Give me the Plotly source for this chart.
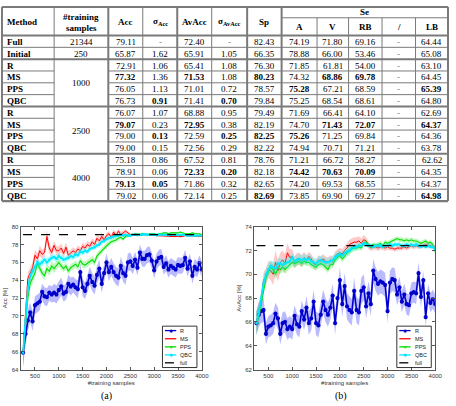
import plotly.graph_objects as go

W, H = 456, 406

# ---------------- table data ----------------
methods = ["Full", "Initial", "R", "MS", "PPS", "QBC", "R", "MS", "PPS", "QBC",
           "R", "MS", "PPS", "QBC"]
train_labels = ["21344", "250", "1000", "2500", "4000"]
train_rows = [0, 1, 3.5, 7.5, 11.5]          # row positions (merged groups centred)
headers_main = ["Acc", "σ<sub>Acc</sub>", "AvAcc", "σ<sub>AvAcc</sub>", "Sp"]
headers_se = ["A", "V", "RB", "/", "LB"]

acc = ["79.11", "65.87", "72.91", "77.32", "76.05", "76.73", "76.07", "79.07", "79.00", "79.00",
       "75.18", "78.91", "79.13", "79.02"]
sd_acc = ["-", "1.62", "1.06", "1.36", "1.13", "0.91", "1.07", "0.23", "0.13", "0.15",
          "0.86", "0.06", "0.05", "0.06"]
avacc = ["72.40", "65.91", "65.41", "71.53", "71.01", "71.41", "68.88", "72.95", "72.59", "72.56",
         "67.52", "72.33", "71.86", "72.14"]
sd_avacc = ["-", "1.05", "1.08", "1.08", "0.72", "0.70", "0.95", "0.38", "0.25", "0.29",
            "0.81", "0.20", "0.32", "0.25"]
sp = ["82.43", "66.35", "76.30", "80.23", "78.57", "79.84", "79.49", "82.19", "82.25", "82.22",
      "78.76", "82.18", "82.65", "82.69"]
se_a = ["74.19", "78.88", "71.85", "74.32", "75.28", "75.25", "71.69", "74.70", "75.26", "74.94",
        "71.21", "74.42", "74.20", "73.85"]
se_v = ["71.80", "66.00", "61.81", "68.86", "67.21", "68.54", "66.41", "71.43", "71.25", "70.71",
        "66.72", "70.63", "69.53", "69.90"]
se_rb = ["69.16", "53.46", "54.00", "69.78", "68.59", "68.61", "64.10", "72.07", "69.84", "71.21",
         "58.27", "70.09", "68.55", "69.27"]
se_slash = ["-", "-", "-", "-", "-", "-", "-", "-", "-", "-", "-", "-", "-", "-"]
se_lb = ["64.44", "65.08", "63.10", "64.45", "65.39", "64.80", "62.69", "64.37", "64.36", "63.78",
         "62.62", "64.35", "64.37", "64.98"]
bold_cells = [(3, 0), (5, 1), (3, 2), (5, 3), (3, 4), (4, 5), (3, 6), (3, 7), (4, 9),
              (7, 0), (8, 1), (7, 2), (8, 3), (8, 4), (8, 5), (7, 6), (7, 7), (7, 9),
              (12, 0), (12, 1), (11, 2), (11, 3), (13, 4), (11, 5), (11, 6), (11, 7), (13, 9)]

# ---------------- curve data ----------------
n_samples = list(range(250, 4001, 50))

acc_R = [65.9, 68.0, 69.5, 70.4, 69.4, 71.2, 71.4, 71.6, 72.7, 72.2,
         72.1, 72.6, 72.4, 72.6, 72.4, 72.9, 73.3, 72.5, 72.7, 73.6,
         73.3, 73.5, 73.2, 73.0, 74.9, 73.2, 72.8, 73.6, 74.5, 73.8,
         73.4, 74.6, 75.3, 73.6, 74.8, 76.0, 74.9, 75.5, 74.9, 74.5,
         74.3, 75.6, 74.8, 74.5, 76.0, 76.1, 75.6, 76.3, 75.4, 77.1,
         76.4, 76.4, 76.8, 76.9, 76.2, 75.1, 76.1, 76.5, 76.6, 75.5,
         75.9, 75.2, 75.6, 75.4, 75.2, 75.7, 75.6, 75.7, 76.5, 75.3,
         76.1, 74.5, 75.5, 75.2, 75.9, 75.2]
acc_MS = [65.9, 70.0, 74.2, 74.8, 75.4, 76.8, 76.4, 77.3, 76.9, 77.1,
          78.9, 77.6, 77.1, 77.9, 77.3, 77.3, 77.6, 77.0, 77.7, 76.8,
          77.0, 77.3, 77.1, 77.5, 77.3, 77.8, 77.6, 78.0, 77.8, 78.3,
          78.0, 78.7, 78.4, 78.9, 78.5, 79.0, 79.2, 78.8, 79.4, 79.0,
          79.5, 79.1, 79.3, 79.5, 79.3, 79.1, 79.1, 79.2, 79.1, 79.1,
          79.1, 79.1, 79.1, 79.1, 79.1, 79.1, 79.0, 79.0, 79.0, 79.0,
          78.95, 78.9, 78.9, 78.9, 78.9, 78.9, 78.85, 78.9, 79.0, 79.0,
          79.0, 78.95, 78.95, 78.9, 78.9, 78.9]
acc_PPS = [65.9, 68.8, 72.0, 73.7, 74.3, 74.8, 75.9, 75.3, 74.8, 74.5,
           75.3, 75.0, 75.6, 75.3, 75.7, 76.0, 75.6, 75.3, 75.6, 75.0,
           75.4, 75.6, 75.8, 75.5, 76.2, 75.8, 75.7, 75.9, 76.1, 76.3,
           76.0, 76.7, 77.0, 77.3, 77.6, 77.9, 78.1, 78.3, 78.4, 78.5,
           78.7, 78.8, 78.6, 78.9, 79.0, 79.0, 79.1, 79.1, 79.2, 79.1,
           79.2, 79.2, 79.1, 79.2, 79.2, 79.2, 79.1, 79.2, 79.2, 79.3,
           79.3, 79.2, 79.3, 79.3, 79.3, 79.3, 79.4, 79.3, 79.2, 79.2,
           79.2, 79.3, 79.2, 79.2, 79.2, 79.1]
acc_QBC = [65.9, 69.5, 73.0, 74.5, 75.0, 75.5, 76.0, 75.8, 76.0, 76.3,
           76.0, 76.3, 76.5, 76.6, 76.4, 76.7, 76.5, 76.3, 76.4, 76.5,
           76.7, 76.6, 76.9, 76.8, 77.2, 77.1, 77.3, 77.2, 77.5, 77.6,
           77.7, 77.9, 78.0, 78.3, 78.4, 78.6, 78.7, 78.8, 78.9, 79.0,
           79.0, 79.1, 79.0, 79.1, 79.0, 79.0, 79.1, 79.1, 79.05, 79.1,
           79.1, 79.15, 79.1, 79.1, 79.1, 79.1, 79.05, 79.1, 79.1, 79.1,
           79.1, 79.05, 79.1, 79.1, 79.1, 79.05, 79.1, 79.1, 79.05, 79.0,
           79.0, 79.05, 79.0, 79.0, 79.0, 79.0]

sd_acc_R = [1.6, 1.4, 1.2, 1.1, 1.1, 1.0, 1.0, 1.0, 0.9, 1.0,
            1.0, 0.9, 0.9, 1.0, 1.0, 1.0, 1.0, 0.9, 0.9, 1.0,
            1.0, 0.9, 0.9, 1.0, 1.0, 1.0, 0.9, 1.0, 1.0, 1.0,
            1.0, 1.0, 1.0, 1.0, 1.0, 1.0, 1.0, 1.0, 1.0, 1.0,
            1.0, 1.0, 1.0, 1.0, 1.0, 1.0, 0.9, 0.9, 0.9, 0.9,
            0.9, 0.9, 0.9, 0.9, 0.9, 0.9, 0.9, 0.9, 0.9, 0.9,
            0.9, 0.9, 0.9, 0.9, 0.9, 0.9, 0.9, 0.9, 0.9, 0.9,
            0.9, 0.9, 0.9, 0.9, 0.9, 0.9]
sd_acc_MS = [1.6, 1.0, 0.7, 0.6, 0.6, 0.6, 0.6, 0.6, 0.5, 0.5,
             0.7, 0.6, 0.5, 0.5, 0.5, 0.5, 0.5, 0.5, 0.5, 0.5,
             0.4, 0.4, 0.4, 0.4, 0.4, 0.4, 0.4, 0.4, 0.4, 0.4,
             0.4, 0.4, 0.4, 0.4, 0.4, 0.3, 0.3, 0.3, 0.3, 0.3,
             0.3, 0.3, 0.2, 0.2, 0.2, 0.15, 0.15, 0.15, 0.15, 0.15,
             0.15, 0.15, 0.15, 0.12, 0.12, 0.12, 0.12, 0.12, 0.12, 0.12,
             0.12, 0.1, 0.1, 0.1, 0.1, 0.1, 0.1, 0.1, 0.1, 0.1,
             0.1, 0.1, 0.1, 0.1, 0.1, 0.1]
sd_acc_PPS = [1.6, 1.0, 0.8, 0.7, 0.6, 0.5, 0.5, 0.5, 0.5, 0.5,
              0.5, 0.5, 0.5, 0.5, 0.5, 0.5, 0.4, 0.4, 0.4, 0.4,
              0.4, 0.4, 0.4, 0.4, 0.4, 0.4, 0.4, 0.4, 0.4, 0.4,
              0.4, 0.35, 0.35, 0.35, 0.3, 0.3, 0.3, 0.3, 0.3, 0.25,
              0.25, 0.25, 0.2, 0.2, 0.2, 0.15, 0.15, 0.15, 0.15, 0.15,
              0.15, 0.12, 0.12, 0.12, 0.12, 0.12, 0.12, 0.12, 0.12, 0.12,
              0.12, 0.12, 0.12, 0.12, 0.12, 0.1, 0.1, 0.1, 0.1, 0.1,
              0.1, 0.1, 0.1, 0.1, 0.1, 0.1]
sd_acc_QBC = [1.6, 1.0, 0.7, 0.6, 0.5, 0.5, 0.5, 0.45, 0.45, 0.45,
              0.45, 0.4, 0.4, 0.4, 0.4, 0.4, 0.4, 0.4, 0.35, 0.35,
              0.35, 0.35, 0.35, 0.35, 0.35, 0.35, 0.35, 0.3, 0.3, 0.3,
              0.3, 0.3, 0.3, 0.25, 0.25, 0.25, 0.2, 0.2, 0.2, 0.2,
              0.15, 0.15, 0.15, 0.15, 0.15, 0.12, 0.12, 0.12, 0.1, 0.1,
              0.1, 0.1, 0.1, 0.1, 0.1, 0.1, 0.1, 0.1, 0.1, 0.1,
              0.1, 0.1, 0.1, 0.1, 0.1, 0.1, 0.1, 0.1, 0.1, 0.1,
              0.1, 0.1, 0.1, 0.1, 0.1, 0.1]

avacc_R = [65.9, 66.6, 66.9, 67.0, 65.0, 65.6, 65.7, 65.9, 66.7, 66.3,
           65.0, 65.9, 66.0, 65.4, 65.6, 65.4, 66.5, 65.8, 65.6, 66.9,
           66.2, 67.2, 65.9, 66.3, 67.7, 65.9, 65.7, 66.6, 67.7, 67.0,
           66.6, 67.2, 68.2, 65.9, 68.0, 69.5, 67.5, 69.0, 67.3, 67.0,
           66.8, 68.6, 67.0, 66.8, 68.6, 68.9, 67.3, 68.4, 67.5, 70.3,
           69.6, 69.2, 69.4, 69.3, 69.1, 66.9, 69.3, 69.6, 69.5, 68.3,
           68.9, 67.7, 68.3, 67.5, 67.4, 68.4, 68.5, 68.4, 70.1, 68.1,
           69.5, 66.4, 68.4, 67.6, 67.9, 67.5]
avacc_MS = [65.9, 66.8, 67.8, 69.5, 69.8, 70.4, 70.3, 70.0, 71.0, 70.3,
            71.0, 71.2, 70.9, 71.8, 71.4, 71.5, 71.0, 71.3, 71.3, 71.1,
            71.4, 71.2, 71.5, 71.3, 70.9, 70.8, 71.2, 71.1, 71.3, 71.1,
            71.0, 71.2, 71.1, 71.5, 71.7, 71.8, 71.7, 72.0, 72.2, 72.5,
            72.6, 72.7, 72.7, 72.8, 72.6, 72.9, 72.8, 72.4, 72.2, 72.3,
            72.3, 72.2, 72.3, 72.3, 72.2, 72.3, 72.2, 72.2, 72.1, 72.2,
            72.2, 72.2, 72.3, 72.2, 72.3, 72.4, 72.3, 72.4, 72.3, 72.4,
            72.4, 72.5, 72.4, 72.4, 72.3, 72.3]
avacc_PPS = [65.9, 66.5, 67.5, 68.8, 69.7, 70.2, 70.6, 70.4, 70.0, 70.5,
             70.4, 70.6, 70.4, 70.6, 70.8, 71.0, 70.9, 71.0, 71.1, 70.9,
             71.1, 71.0, 71.0, 70.8, 70.7, 70.6, 70.8, 70.9, 70.8, 70.6,
             70.4, 70.8, 70.8, 71.2, 71.4, 71.6, 71.3, 71.5, 71.8, 71.9,
             72.1, 72.2, 72.2, 72.3, 72.2, 72.6, 72.7, 72.5, 72.3, 72.5,
             72.4, 72.5, 72.6, 72.4, 72.7, 72.6, 72.7, 72.8, 72.9, 73.0,
             72.9, 72.9, 72.8, 72.9, 72.8, 72.9, 72.8, 72.8, 72.7, 72.6,
             72.7, 72.8, 72.6, 72.7, 72.5, 71.9]
avacc_QBC = [65.9, 66.8, 68.0, 69.3, 70.0, 70.4, 70.7, 70.6, 70.5, 70.9,
             70.9, 70.8, 70.9, 71.0, 71.1, 71.4, 71.1, 71.2, 71.3, 71.2,
             71.3, 71.2, 71.3, 71.1, 71.0, 70.9, 71.1, 71.2, 71.1, 71.0,
             71.0, 71.1, 71.2, 71.4, 71.6, 71.7, 71.6, 71.8, 71.9, 72.0,
             72.2, 72.3, 72.3, 72.4, 72.4, 72.6, 72.5, 72.4, 72.4, 72.3,
             72.4, 72.4, 72.4, 72.3, 72.4, 72.4, 72.5, 72.4, 72.5, 72.5,
             72.5, 72.4, 72.4, 72.5, 72.4, 72.5, 72.4, 72.5, 72.4, 72.3,
             72.4, 72.3, 72.4, 72.3, 72.3, 72.1]

sd_avacc_R = [1.0, 1.0, 1.0, 1.0, 0.9, 0.9, 0.9, 0.9, 0.9, 0.9,
              0.9, 0.9, 0.9, 0.9, 0.9, 0.9, 0.9, 0.9, 0.9, 0.9,
              0.9, 1.0, 1.0, 1.0, 1.0, 1.0, 1.0, 1.0, 1.0, 1.0,
              1.0, 1.0, 1.0, 1.0, 1.1, 1.1, 1.1, 1.1, 1.1, 1.1,
              1.1, 1.1, 1.1, 1.1, 1.1, 1.1, 1.0, 1.0, 1.0, 1.0,
              1.0, 1.0, 1.0, 1.0, 1.0, 1.0, 1.0, 1.0, 1.0, 0.9,
              0.9, 0.9, 0.9, 0.9, 0.9, 0.9, 0.9, 0.9, 0.9, 0.9,
              0.8, 0.8, 0.8, 0.8, 0.8, 0.8]
sd_avacc_MS = [1.0, 0.8, 0.7, 0.7, 0.7, 0.7, 0.8, 0.9, 1.0, 0.9,
               0.8, 0.8, 0.8, 0.8, 0.7, 0.6, 0.5, 0.5, 0.5, 0.5,
               0.5, 0.4, 0.4, 0.4, 0.4, 0.4, 0.4, 0.4, 0.4, 0.4,
               0.4, 0.4, 0.4, 0.4, 0.4, 0.4, 0.4, 0.4, 0.4, 0.4,
               0.4, 0.4, 0.4, 0.4, 0.4, 0.4, 0.3, 0.3, 0.25, 0.25,
               0.25, 0.25, 0.25, 0.25, 0.25, 0.25, 0.2, 0.2, 0.2, 0.2,
               0.2, 0.2, 0.2, 0.2, 0.2, 0.2, 0.2, 0.2, 0.2, 0.2,
               0.2, 0.2, 0.2, 0.2, 0.2, 0.2]
sd_avacc_PPS = [1.0, 0.7, 0.6, 0.5, 0.5, 0.4, 0.4, 0.4, 0.4, 0.4,
                0.4, 0.4, 0.35, 0.35, 0.35, 0.35, 0.35, 0.35, 0.3, 0.3,
                0.3, 0.3, 0.3, 0.3, 0.3, 0.3, 0.3, 0.3, 0.3, 0.3,
                0.3, 0.3, 0.3, 0.3, 0.3, 0.3, 0.3, 0.3, 0.3, 0.3,
                0.25, 0.25, 0.25, 0.25, 0.25, 0.25, 0.25, 0.2, 0.2, 0.2,
                0.2, 0.2, 0.2, 0.2, 0.2, 0.2, 0.2, 0.2, 0.2, 0.2,
                0.2, 0.2, 0.2, 0.2, 0.2, 0.2, 0.2, 0.2, 0.2, 0.2,
                0.2, 0.2, 0.2, 0.2, 0.2, 0.3]
sd_avacc_QBC = [1.0, 0.7, 0.6, 0.5, 0.5, 0.5, 0.5, 0.5, 0.5, 0.45,
                0.45, 0.45, 0.45, 0.45, 0.4, 0.4, 0.4, 0.4, 0.4, 0.4,
                0.4, 0.4, 0.4, 0.4, 0.4, 0.4, 0.4, 0.4, 0.35, 0.35,
                0.35, 0.35, 0.35, 0.35, 0.35, 0.3, 0.3, 0.3, 0.3, 0.3,
                0.3, 0.3, 0.25, 0.25, 0.25, 0.25, 0.2, 0.2, 0.2, 0.2,
                0.2, 0.2, 0.2, 0.2, 0.2, 0.2, 0.2, 0.2, 0.2, 0.2,
                0.2, 0.2, 0.2, 0.2, 0.2, 0.2, 0.2, 0.2, 0.2, 0.2,
                0.2, 0.2, 0.2, 0.2, 0.2, 0.25]

full_acc = float(acc[0])
full_avacc = float(avacc[0])

series_names = ["R", "MS", "PPS", "QBC", "full"]

# ---------------- styles ----------------
line_col = {"R": "#0000cc", "MS": "#ff0000", "PPS": "#00dd00", "QBC": "#00e8ff"}
band_col = {"R": "rgba(90,90,255,0.42)", "MS": "rgba(255,40,40,0.25)",
            "PPS": "rgba(0,230,0,0.25)", "QBC": "rgba(0,255,255,0.30)"}
marker_sym = {"R": "asterisk-open", "MS": None, "PPS": None, "QBC": "asterisk-open"}
marker_size = {"R": 3.5, "MS": 0, "PPS": 0, "QBC": 2}
line_w = {"R": 1.6, "MS": 1.0, "PPS": 1.1, "QBC": 1.7}

fig = go.Figure()


def add_panel(xa, ya, data, sds, full_val):
    for name in ["R", "MS", "PPS", "QBC"]:
        m = data[name]
        s = sds[name]
        up = [a + b for a, b in zip(m, s)]
        lo = [a - b for a, b in zip(m, s)]
        fig.add_trace(go.Scatter(x=n_samples + n_samples[::-1], y=up + lo[::-1],
                                 fill="toself", fillcolor=band_col[name], line=dict(width=0),
                                 mode="lines", hoverinfo="skip", xaxis=xa, yaxis=ya,
                                 showlegend=False))
        mk = dict(symbol=marker_sym[name], size=marker_size[name],
                  line=dict(color=line_col[name], width=1.2)) if marker_sym[name] else None
        fig.add_trace(go.Scatter(x=n_samples, y=m, mode="lines+markers" if mk else "lines",
                                 line=dict(color=line_col[name], width=line_w[name]),
                                 marker=mk, name=name, xaxis=xa, yaxis=ya, showlegend=False))
    fig.add_trace(go.Scatter(x=[n_samples[0], n_samples[-1]], y=[full_val, full_val], mode="lines",
                             line=dict(color="black", width=1.2, dash="dash"), name="full",
                             xaxis=xa, yaxis=ya, showlegend=False))


add_panel("x", "y",
          {"R": acc_R, "MS": acc_MS, "PPS": acc_PPS, "QBC": acc_QBC},
          {"R": sd_acc_R, "MS": sd_acc_MS, "PPS": sd_acc_PPS, "QBC": sd_acc_QBC}, full_acc)
add_panel("x2", "y2",
          {"R": avacc_R, "MS": avacc_MS, "PPS": avacc_PPS, "QBC": avacc_QBC},
          {"R": sd_avacc_R, "MS": sd_avacc_MS, "PPS": sd_avacc_PPS, "QBC": sd_avacc_QBC}, full_avacc)


def px(x):
    return x / W


def py(y):
    return 1 - y / H


ax_font = dict(family="Liberation Sans, Arial", size=6, color="#333")
axis_common = dict(showline=True, linecolor="#555", linewidth=1, mirror="ticks", ticks="inside",
                   ticklen=3, tickcolor="#555", showgrid=False, zeroline=False, tickfont=ax_font)

fig.update_layout(
    width=W, height=H, margin=dict(l=0, r=0, t=0, b=0),
    paper_bgcolor="white", plot_bgcolor="white", showlegend=False,
    xaxis=dict(domain=[px(21), px(205)], range=[200, 4000], dtick=500, anchor="y",
               title=dict(text="#training samples", font=ax_font, standoff=3), **axis_common),
    yaxis=dict(domain=[py(372), py(227)], range=[64, 80], dtick=2, anchor="x",
               title=dict(text="Acc [%]", font=ax_font, standoff=3), **axis_common),
    xaxis2=dict(domain=[px(258), px(442)], range=[200, 4000], dtick=500, anchor="y2",
                title=dict(text="#training samples", font=ax_font, standoff=3), **axis_common),
    yaxis2=dict(domain=[py(372), py(227)], range=[62, 74], dtick=2, anchor="x2",
                title=dict(text="AvAcc [%]", font=ax_font, standoff=3), **axis_common),
)

shapes = []
annotations = []

# ---------------- table geometry ----------------
col_edges = [2, 55, 110, 145, 180, 215, 251, 286, 322, 354, 388, 422, 455]
thick_edges = {2, 110, 180, 251, 286, 455}
se_inner_edges = {322, 354, 388, 422}
t_top, t_se, t_head, row_h = 4, 15, 33, 12
n_rows = len(methods)
t_bot = t_head + row_h * n_rows
grid_col = "#7a7a7a"


def hline(y, x0, x1, w):
    shapes.append(dict(type="line", xref="paper", yref="paper", x0=px(x0), x1=px(x1),
                       y0=py(y), y1=py(y), line=dict(color=grid_col, width=w)))


def vline(x, y0, y1, w):
    shapes.append(dict(type="line", xref="paper", yref="paper", x0=px(x), x1=px(x),
                       y0=py(y0), y1=py(y1), line=dict(color=grid_col, width=w)))


hline(t_top, col_edges[0], col_edges[-1], 2)
hline(t_se, col_edges[7], col_edges[-1], 1)
hline(t_head, col_edges[0], col_edges[-1], 2.2)
hline(t_bot, col_edges[0], col_edges[-1], 2.2)
group_starts = {2, 6, 10}
for i in range(1, n_rows):
    y = t_head + row_h * i
    if i in group_starts:
        hline(y, col_edges[0], col_edges[-1], 2)
    elif i == 1:
        hline(y, col_edges[0], col_edges[-1], 1)
    else:
        hline(y, col_edges[0], col_edges[1], 1)
        hline(y, col_edges[2], col_edges[-1], 1)
for x in col_edges:
    y0 = t_se if x in se_inner_edges else t_top
    vline(x, y0, t_bot, 2 if x in thick_edges else 1)

tfont = dict(family="Liberation Serif, Times New Roman, serif", size=9, color="black")


def txt(x, y, s, anchor="center", color="black", size=9):
    f = dict(tfont)
    f["color"] = color
    f["size"] = size
    annotations.append(dict(x=px(x), y=py(y), xref="paper", yref="paper", text=s, showarrow=False,
                            xanchor=anchor, yanchor="middle", font=f))


centers = [(col_edges[k] + col_edges[k + 1]) / 2 for k in range(len(col_edges) - 1)]
head_mid = (t_top + t_head) / 2 + 0.5
txt(5, head_mid, "<b>Method</b>", anchor="left")
txt(centers[1], 14, "<b>#training</b>")
txt(centers[1], 25, "<b>samples</b>")
for k, h in enumerate(headers_main):
    txt(centers[2 + k], head_mid, "<b>%s</b>" % h)
txt((col_edges[7] + col_edges[-1]) / 2, 9.5, "<b>Se</b>")
for k, h in enumerate(headers_se):
    txt(centers[7 + k], 24.5, "<b>%s</b>" % h)

for i, m in enumerate(methods):
    txt(5, t_head + row_h * (i + 0.5) + 0.5, "<b>%s</b>" % m, anchor="left")
for lab, r in zip(train_labels, train_rows):
    txt(centers[1], t_head + row_h * (r + 0.5) + 0.5, lab)

columns = [acc, sd_acc, avacc, sd_avacc, sp, se_a, se_v, se_rb, se_slash, se_lb]
bold_set = set(bold_cells)
for j, col in enumerate(columns):
    for i, v in enumerate(col):
        s = "<b>%s</b>" % v if (i, j) in bold_set else v
        txt(centers[2 + j], t_head + row_h * (i + 0.5) + 0.5, s,
            color="#777" if v == "-" else "black")

# ---------------- captions ----------------
txt(108, 399, "(a)", size=10)
txt(346, 399, "(b)", size=10)

# ---------------- manual legends ----------------
leg_font = dict(family="Liberation Sans, Arial", size=5.5, color="#222")
leg_syms = {"R": "✱", "MS": "", "PPS": "+", "QBC": "✱", "full": ""}
leg_cols = dict(line_col)
leg_cols["full"] = "black"


def legend_box(x0, y0, x1, y1):
    shapes.append(dict(type="rect", xref="paper", yref="paper", x0=px(x0), x1=px(x1),
                       y0=py(y1), y1=py(y0), line=dict(color="black", width=0.8),
                       fillcolor="white", layer="above"))
    ys = [332.5, 340.8, 349.0, 357.2, 365.2]
    for name, yy in zip(series_names, ys):
        dash = "dash" if name == "full" else "solid"
        shapes.append(dict(type="line", xref="paper", yref="paper", x0=px(x0 + 2.5), x1=px(x0 + 14),
                           y0=py(yy), y1=py(yy), layer="above",
                           line=dict(color=leg_cols[name], width=1.3, dash=dash)))
        if leg_syms[name]:
            annotations.append(dict(x=px(x0 + 8.3), y=py(yy), xref="paper", yref="paper",
                                    text=leg_syms[name], showarrow=False, xanchor="center",
                                    yanchor="middle",
                                    font=dict(family="DejaVu Sans", size=5, color=leg_cols[name])))
        annotations.append(dict(x=px(x0 + 16), y=py(yy), xref="paper", yref="paper", text=name,
                                showarrow=False, xanchor="left", yanchor="middle", font=leg_font))


legend_box(165, 328, 200, 370)
legend_box(403, 328, 438, 370)

fig.update_layout(shapes=shapes, annotations=annotations)
fig.write_html("out.html")
